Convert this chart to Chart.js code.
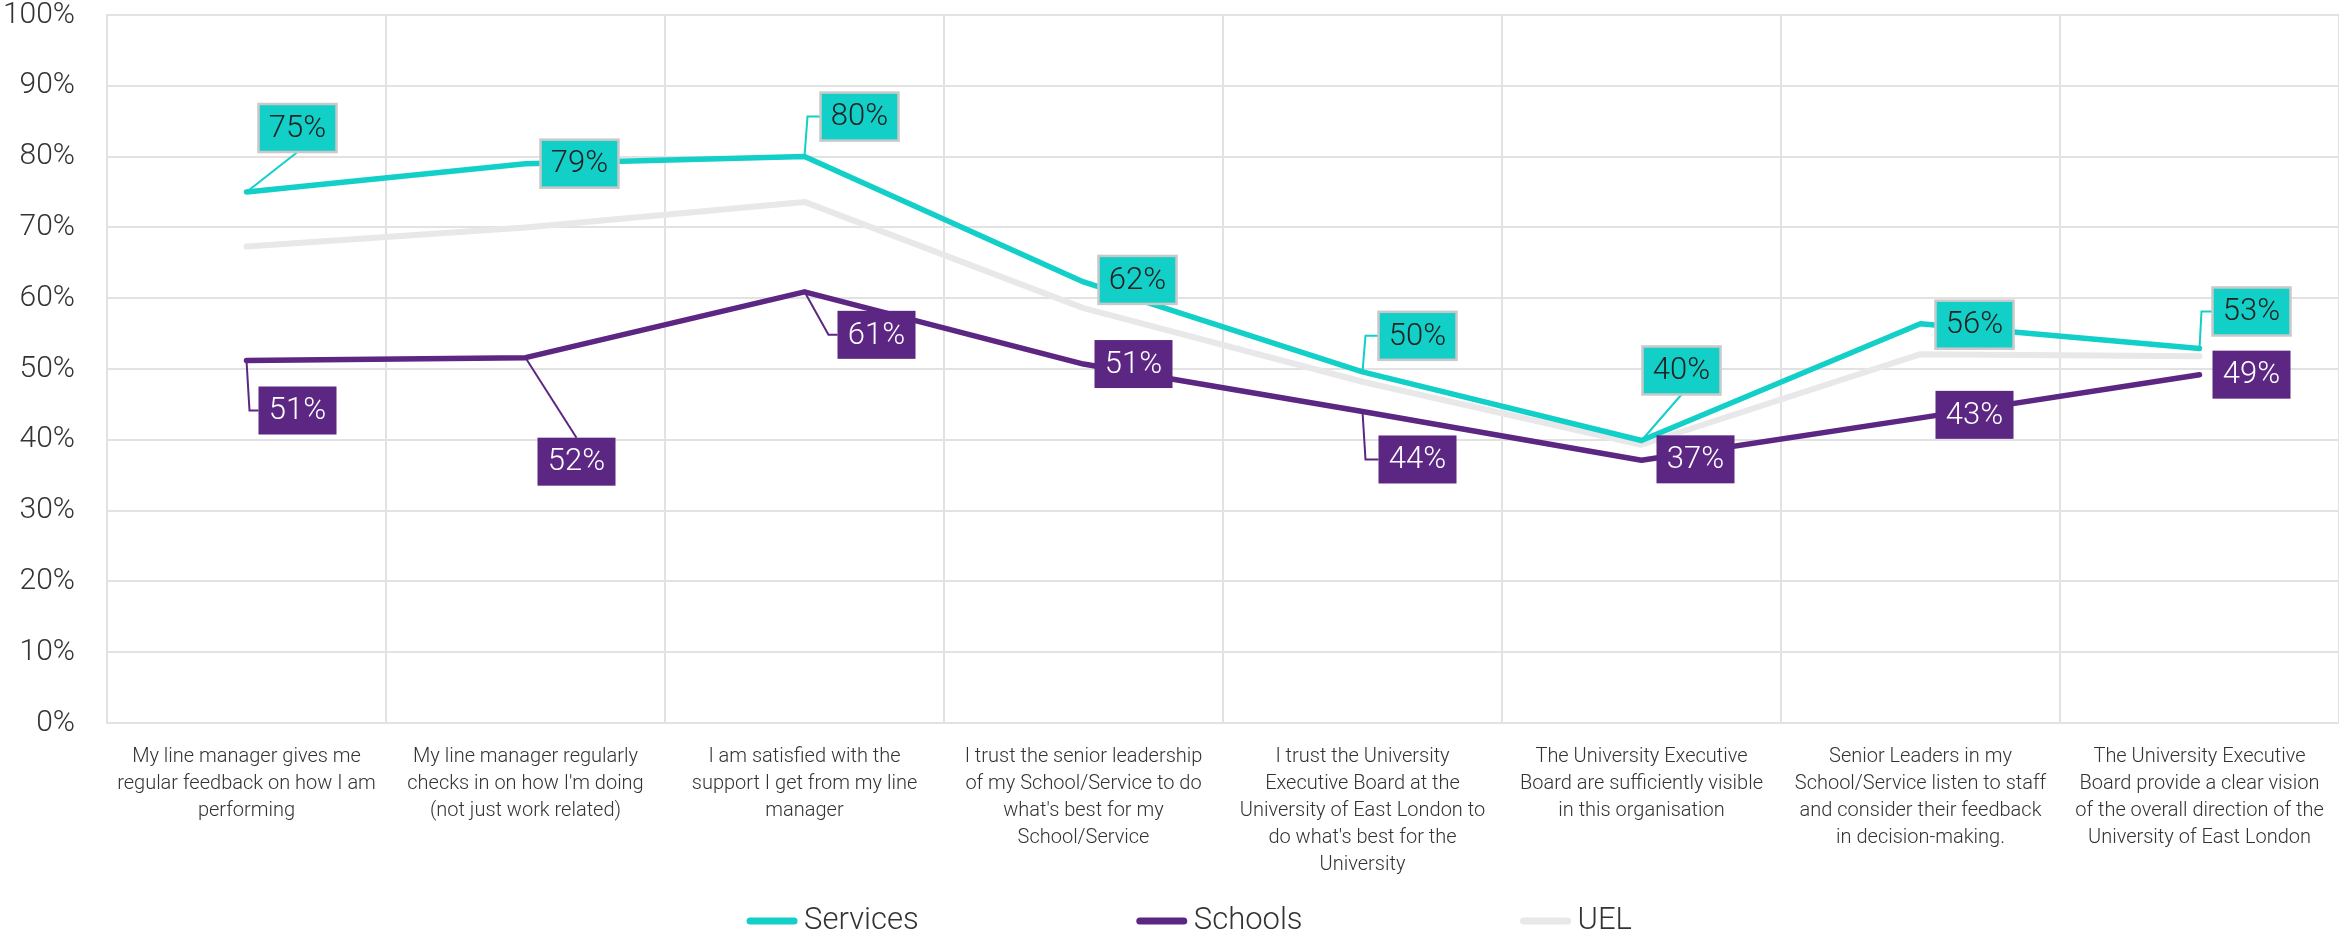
<!DOCTYPE html>
<html>
<head>
<meta charset="utf-8">
<script src="https://cdn.jsdelivr.net/npm/chart.js@4/dist/chart.umd.min.js"></script>
<style>
  html, body { margin: 0; padding: 0; background: #fff; }
  #wrap { width: 2339px; height: 935px; position: relative; }
</style>
</head>
<body>
<div id="wrap"><canvas id="chart"></canvas></div>
<script>
// survey statements (x axis), one array of lines per category
const categories = [
    ['My line manager gives me', 'regular feedback on how I am', 'performing'],
    ['My line manager regularly', "checks in on how I'm doing", '(not just work related)'],
    ['I am satisfied with the', 'support I get from my line', 'manager'],
    ['I trust the senior leadership', 'of my School/Service to do', "what's best for my", 'School/Service'],
    ['I trust the University', 'Executive Board at the', 'University of East London to', "do what's best for the", 'University'],
    ['The University Executive', 'Board are sufficiently visible', 'in this organisation'],
    ['Senior Leaders in my', 'School/Service listen to staff', 'and consider their feedback', 'in decision-making.'],
    ['The University Executive', 'Board provide a clear vision', 'of the overall direction of the', 'University of East London']
];

const services = [75, 79, 80, 62.3, 49.6, 39.9, 56.4, 52.9];
const schools = [51.2, 51.6, 60.9, 50.7, 44.0, 37.1, 43.1, 49.2];
const uel = [67.3, 70.0, 73.6, 58.6, 48.2, 39.3, 52.1, 51.8];

const yTicks = [0, 10, 20, 30, 40, 50, 60, 70, 80, 90, 100];

// callout placement: [dx, dy, leader] relative to the point, leader = 'edge' | knee x | null
const servicesCallouts = [[51, -64, 'edge'], [54, 0, null], [55, -40, 3], [54, -2, null],
    [55, -36, 3], [40, -70, 'edge'], [54, 1, null], [52, -37, 2]];
const schoolsCallouts = [[51, 50, 3], [51, 104, 'edge'], [72, 43, 24], [50, 0, null],
    [55, 48, 3], [54, -1, null], [54, -3, null], [52, 0, null]];

const TEAL = '#12cfc8';
const PURPLE = '#5c2683';
const GREY = '#e8e8ea';
const FONT = 'Roboto, "Noto Sans", sans-serif';

const calloutPlugin = {
    id: 'callouts',
    afterDatasetsDraw(chart) {
        const ctx = chart.ctx;
        chart.data.datasets.forEach((ds, i) => {
            if (!ds.callouts) return;
            const meta = chart.getDatasetMeta(i);
            meta.data.forEach((pt, j) => {
                const [dx, dy, leader] = ds.callouts[j];
                const w = 78, h = 48;
                const cx = pt.x + dx, cy = pt.y + dy;
                ctx.save();
                ctx.strokeStyle = ds.borderColor;
                ctx.lineWidth = 2;
                if (leader === 'edge') {
                    ctx.beginPath();
                    ctx.moveTo(pt.x, pt.y);
                    ctx.lineTo(cx, dy < 0 ? cy + h / 2 : cy - h / 2);
                    ctx.stroke();
                } else if (typeof leader === 'number') {
                    ctx.beginPath();
                    ctx.moveTo(pt.x, pt.y);
                    ctx.lineTo(pt.x + leader, cy);
                    ctx.lineTo(cx - w / 2, cy);
                    ctx.stroke();
                }
                ctx.fillStyle = ds.borderColor;
                ctx.fillRect(cx - w / 2, cy - h / 2, w, h);
                if (ds.calloutBorder) {
                    ctx.strokeStyle = ds.calloutBorder;
                    ctx.lineWidth = 2.5;
                    ctx.strokeRect(cx - w / 2, cy - h / 2, w, h);
                }
                ctx.fillStyle = ds.calloutText;
                ctx.font = '300 31px ' + FONT;
                ctx.textAlign = 'center';
                ctx.textBaseline = 'middle';
                ctx.fillText(Math.round(ds.data[j]) + '%', cx, cy + 1);
                ctx.restore();
            });
        });
    }
};

const legendPlugin = {
    id: 'lineLegend',
    afterDraw(chart) {
        const ctx = chart.ctx;
        const y = 921, lineW = 44, gap = 218;
        ctx.save();
        ctx.font = '300 31px ' + FONT;
        const items = chart.data.datasets.map(ds => ({
            ds, w: 50 + 7 + ctx.measureText(ds.label).width
        }));
        const total = items.reduce((s, it) => s + it.w, 0) + gap * (items.length - 1);
        let x = (chart.width - total) / 2 + 20;
        items.forEach(it => {
            ctx.strokeStyle = it.ds.borderColor;
            ctx.lineWidth = 7;
            ctx.lineCap = 'round';
            ctx.beginPath();
            ctx.moveTo(x + 3, y);
            ctx.lineTo(x + 3 + lineW, y);
            ctx.stroke();
            ctx.fillStyle = '#333';
            ctx.textAlign = 'left';
            ctx.textBaseline = 'middle';
            ctx.fillText(it.ds.label, x + 57, y);
            x += it.w + gap;
        });
        ctx.restore();
    }
};

new Chart(document.getElementById('chart'), {
    type: 'line',
    data: {
        labels: categories,
        datasets: [
            { label: 'Services', data: services, borderColor: TEAL, backgroundColor: TEAL, borderWidth: 5.5,
              callouts: servicesCallouts, calloutBorder: '#c9c9c9', calloutText: '#222' },
            { label: 'Schools', data: schools, borderColor: PURPLE, backgroundColor: PURPLE, borderWidth: 5.5,
              callouts: schoolsCallouts, calloutText: '#fff' },
            { label: 'UEL', data: uel, borderColor: GREY, backgroundColor: GREY, borderWidth: 6 }
        ]
    },
    options: {
        responsive: true,
        maintainAspectRatio: false,
        animation: false,
        layout: { padding: { top: 0, right: 0, bottom: 0, left: 0 } },
        elements: {
            line: { tension: 0, borderCapStyle: 'round', borderJoinStyle: 'round' },
            point: { radius: 0, hoverRadius: 0 }
        },
        plugins: {
            legend: { display: false },
            tooltip: { enabled: false }
        },
        scales: {
            x: {
                offset: true,
                grid: { offset: true, color: '#e2e2e2', lineWidth: 2, drawTicks: false },
                border: { color: '#e2e2e2', width: 2 },
                ticks: {
                    autoSkip: false, maxRotation: 0, padding: 20, color: '#333',
                    font: { family: FONT, size: 20, weight: 300, lineHeight: 1.36 }
                },
                afterFit: scale => {
                    scale.height = 212;
                    scale.paddingRight = 0;
                }
            },
            y: {
                min: 0, max: 100,
                afterBuildTicks: scale => { scale.ticks = yTicks.map(v => ({ value: v })); },
                grid: { color: '#e2e2e2', lineWidth: 2, drawTicks: false },
                border: { color: '#e2e2e2', width: 2 },
                ticks: {
                    padding: 32, color: '#333',
                    font: { family: FONT, size: 30, weight: 300 },
                    callback: v => v + '%'
                },
                afterFit: scale => {
                    scale.width = 107;
                    scale.paddingTop = 15;
                    scale.paddingBottom = 0;
                }
            }
        }
    },
    plugins: [calloutPlugin, legendPlugin]
});
</script>
</body>
</html>
